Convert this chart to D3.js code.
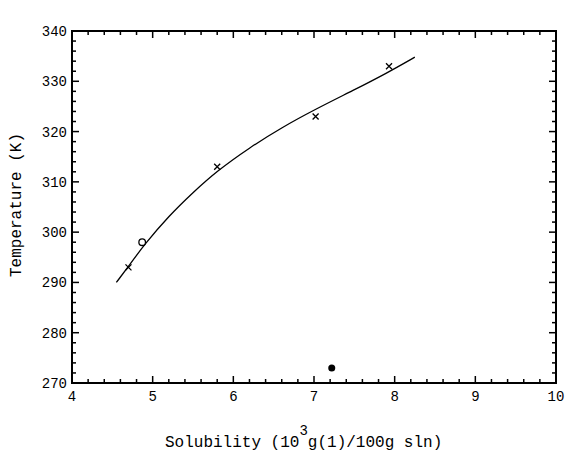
<!DOCTYPE html><html><head><script src="https://cdn.jsdelivr.net/npm/d3@7"></script>
<style>body{margin:0;background:#fff}</style></head><body><svg id="c" width="583" height="463"></svg>
<script>
const xTicks=[4,5,6,7,8,9,10];
const yTicks=[270,280,290,300,310,320,330,340];
const curveX=[4.55,4.7,4.9,5.2,5.5,5.8,6.2,6.6,7.0,7.5,7.9,8.25];
const curveT=[290,293.2,297.6,303.2,307.9,312.2,316.8,320.8,324.3,328.3,331.6,334.8];
const crossX=[4.7,5.8,7.02,7.93];
const crossT=[293,313,323,333];
const openX=[4.87], openT=[298];
const filledX=[7.22], filledT=[273];

const svg=d3.select("#c");
const L=72,R=556,T=31,B=383;
const x=d3.scaleLinear().domain([4,10]).range([L,R]);
const y=d3.scaleLinear().domain([270,340]).range([B,T]);
const font="Liberation Mono, DejaVu Sans Mono, monospace";
svg.append("rect").attr("x",L).attr("y",T).attr("width",R-L).attr("height",B-T).attr("fill","none").attr("stroke","#000").attr("stroke-width",2);
const minorX=d3.range(4,10.001,0.2), minorY=d3.range(270,340.001,2);
minorX.forEach(v=>{const maj=Math.abs(v-Math.round(v))<1e-6;const l=maj?7:4;
 svg.append("line").attr("x1",x(v)).attr("x2",x(v)).attr("y1",B).attr("y2",B-l).attr("stroke","#000").attr("stroke-width",1.5);
 svg.append("line").attr("x1",x(v)).attr("x2",x(v)).attr("y1",T).attr("y2",T+l).attr("stroke","#000").attr("stroke-width",1.5);});
minorY.forEach(v=>{const maj=Math.abs(v%10)<1e-6;const l=maj?7:4;
 svg.append("line").attr("y1",y(v)).attr("y2",y(v)).attr("x1",L).attr("x2",L+l).attr("stroke","#000").attr("stroke-width",1.5);
 svg.append("line").attr("y1",y(v)).attr("y2",y(v)).attr("x1",R).attr("x2",R-l).attr("stroke","#000").attr("stroke-width",1.5);});
xTicks.forEach(v=>svg.append("text").attr("x",x(v)).attr("y",B+18).attr("text-anchor","middle").attr("font-family",font).attr("font-size",14).text(v));
yTicks.forEach(v=>svg.append("text").attr("x",L-5).attr("y",y(v)+5).attr("text-anchor","end").attr("font-family",font).attr("font-size",14).text(v));
const xl=svg.append("text").attr("x",165).attr("y",447).attr("font-family",font).attr("font-size",16);
xl.append("tspan").text("Solubility (10");
xl.append("tspan").attr("dy",-12).attr("font-size",14).text("3");
xl.append("tspan").attr("dy",12).text("g(1)/100g sln)");
svg.append("text").attr("transform","translate(21,205) rotate(-90)").attr("text-anchor","middle").attr("font-family",font).attr("font-size",16).text("Temperature (K)");
svg.append("path").datum(d3.zip(curveX,curveT)).attr("fill","none").attr("stroke","#000").attr("stroke-width",1.3)
 .attr("d",d3.line().x(d=>x(d[0])).y(d=>y(d[1])).curve(d3.curveBasis));
d3.zip(crossX,crossT).forEach(d=>svg.append("path").attr("transform",`translate(${x(d[0])},${y(d[1])})`).attr("d","M-3,-3L3,3M-3,3L3,-3").attr("stroke","#000").attr("stroke-width",1.3));
d3.zip(openX,openT).forEach(d=>svg.append("circle").attr("cx",x(d[0])).attr("cy",y(d[1])).attr("r",3.3).attr("fill","#fff").attr("stroke","#000").attr("stroke-width",1.3));
d3.zip(filledX,filledT).forEach(d=>svg.append("circle").attr("cx",x(d[0])).attr("cy",y(d[1])).attr("r",3.5).attr("fill","#000"));
</script></body></html>
